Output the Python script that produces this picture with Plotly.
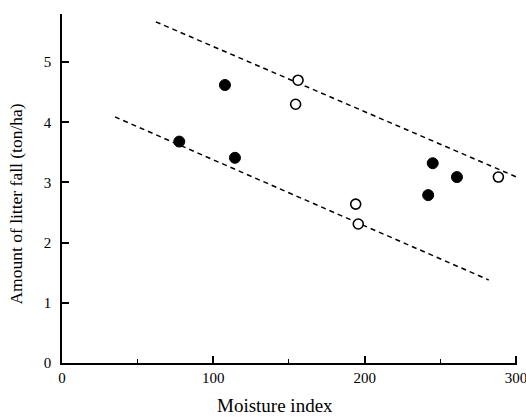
import plotly.graph_objects as go

# Data
filled_x = [77.5, 107.7, 114.3, 242.0, 245.0, 261.0]
filled_y = [3.68, 4.62, 3.41, 2.79, 3.32, 3.09]
open_x = [154.4, 156.0, 194.1, 195.8, 288.4]
open_y = [4.30, 4.70, 2.64, 2.31, 3.09]
upper_x = [62.0, 300.5]
upper_y = [5.67, 3.09]
lower_x = [35.0, 282.0]
lower_y = [4.09, 1.38]
x_ticks = [0, 100, 200, 300]
y_ticks = [0, 1, 2, 3, 4, 5]

FONT = "Liberation Serif"

fig = go.Figure()
fig.add_trace(go.Scatter(x=upper_x, y=upper_y, mode="lines",
                         line=dict(color="black", width=1.5, dash="5px,4px"),
                         showlegend=False, cliponaxis=False))
fig.add_trace(go.Scatter(x=lower_x, y=lower_y, mode="lines",
                         line=dict(color="black", width=1.5, dash="5px,4px"),
                         showlegend=False))
fig.add_trace(go.Scatter(x=filled_x, y=filled_y, mode="markers",
                         marker=dict(symbol="circle", size=11, color="black",
                                     line=dict(color="black", width=1)),
                         showlegend=False))
fig.add_trace(go.Scatter(x=open_x, y=open_y, mode="markers",
                         marker=dict(symbol="circle", size=10, color="white",
                                     line=dict(color="black", width=1.6)),
                         showlegend=False))

fig.update_layout(
    width=526, height=417,
    margin=dict(l=62, r=9, t=14, b=54, autoexpand=False),
    paper_bgcolor="white", plot_bgcolor="white",
    font=dict(family=FONT, color="black", size=15),
    xaxis=dict(range=[0, 300.7], tickvals=x_ticks, ticktext=[str(v) for v in x_ticks],
               ticks="inside", ticklen=7, tickwidth=1.5, tickcolor="black",
               showline=True, linecolor="black", linewidth=1.5, automargin=False,
               showgrid=False, zeroline=False, ticklabeloverflow="allow",
               minor=dict(tickvals=[50, 150, 250], ticks="inside", ticklen=4,
                          tickwidth=1.2, tickcolor="black", showgrid=False),
               tickfont=dict(family=FONT, size=15)),
    yaxis=dict(range=[0, 5.8], tickvals=y_ticks, ticktext=[str(v) for v in y_ticks],
               ticks="inside", ticklen=7, tickwidth=1.5, tickcolor="black",
               showline=True, linecolor="black", linewidth=1.5, automargin=False,
               showgrid=False, zeroline=False,
               tickfont=dict(family=FONT, size=15), ticklabelstandoff=6),
    annotations=[
        dict(text="Moisture index", xref="paper", yref="paper", x=0.468, y=0,
             yshift=-42, xanchor="center", yanchor="middle", showarrow=False,
             font=dict(family=FONT, size=19)),
        dict(text="Amount of litter fall (ton/ha)", xref="paper", yref="paper",
             x=0, y=0.454, xshift=-46, textangle=-90, xanchor="center",
             yanchor="middle", showarrow=False, font=dict(family=FONT, size=17.5)),
    ],
)

fig.write_html("out.html")
